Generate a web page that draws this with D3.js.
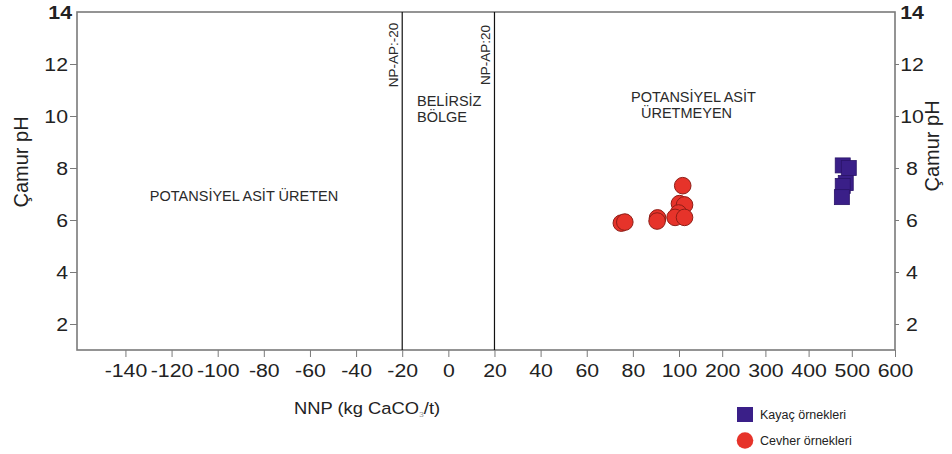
<!DOCTYPE html>
<html lang="tr">
<head>
  <meta charset="UTF-8">
  <title>Çamur pH - NNP</title>
  <script src="https://d3js.org/d3.v7.min.js"></script>
  <style>
    body {
      margin: 0;
      padding: 0;
      background: #fff;
      font-family: "Liberation Sans", Arial, sans-serif;
    }
    svg text { fill: #222; }
    .axis path, .axis line { stroke: #7a7a7a; }
    .zone { font-size: 14.5px; fill: #2a2a2a; }
  </style>
</head>
<body>
  <div id="chart"></div>

  <script>
    // x axis tick labels (NNP, kg CaCO3/t) - scale breaks at 100
    const nnpTicks = [-140, -120, -100, -80, -60, -40, -20, 0, 20, 40, 60, 80, 100, 200, 300, 400, 500, 600];
    const phTicks = [2, 4, 6, 8, 10, 12, 14];

    // Cevher örnekleri (ore samples)
    const cevherNNP = [75, 76.5, 90.7, 90.5, 108.6, 101, 112.8, 99.8, 98.3, 112.8];
    const cevherPH  = [5.88, 5.92, 6.08, 5.96, 7.32, 6.63, 6.58, 6.27, 6.1, 6.1];

    // Kayaç örnekleri (rock samples)
    const kayacNNP = [479, 493, 486, 479, 477];
    const kayacPH  = [8.1, 8.0, 7.42, 7.31, 6.88];

    const boundaries = [-20, 20];
    const boundaryLabels = ["NP-AP:-20", "NP-AP:20"];

    const W = 952, H = 454;
    const pLeft = 77, pRight = 895, pTop = 12, pBottom = 350;

    const svg = d3.select("#chart")
      .append("svg")
      .attr("width", W)
      .attr("height", H);

    // broken scale: -140..100 in 20 steps, then 100..600 in 100 steps
    const x = d3.scaleLinear()
      .domain([-161, 100, 600])
      .range([pLeft, 679, pRight]);

    const y = d3.scaleLinear()
      .domain([1, 14])
      .range([pBottom, pTop]);

    const sx = 1.12;
    const stretch = `scale(${sx},1)`;

    // bottom axis
    const xAxis = svg.append("g")
      .attr("class", "axis")
      .attr("transform", `translate(0,${pBottom})`)
      .call(d3.axisBottom(x).tickValues(nnpTicks).tickSize(7).tickPadding(7).tickFormat(d => String(d)));
    xAxis.select(".domain").remove();
    xAxis.selectAll("text")
      .style("font-size", "19px")
      .attr("transform", stretch);

    // left axis
    const yAxisL = svg.append("g")
      .attr("class", "axis")
      .attr("transform", `translate(${pLeft},0)`)
      .call(d3.axisLeft(y).tickValues(phTicks).tickSize(7).tickPadding(3).tickFormat(d => String(d)));
    yAxisL.select(".domain").remove();
    yAxisL.selectAll("text")
      .style("font-size", "19px")
      .attr("x", -9 / sx)
      .attr("transform", stretch)
      .style("font-weight", d => d === 14 ? "bold" : null);
    yAxisL.selectAll(".tick line").filter(d => d === 14).remove();
    yAxisL.selectAll(".tick text").filter(d => d === 14).attr("x", -5 / sx);

    // right axis
    const yAxisR = svg.append("g")
      .attr("class", "axis")
      .attr("transform", `translate(${pRight},0)`)
      .call(d3.axisRight(y).tickValues(phTicks).tickSize(4).tickFormat(d => String(d)));
    yAxisR.select(".domain").remove();
    yAxisR.selectAll("text")
      .style("font-size", "19px")
      .attr("text-anchor", "middle")
      .attr("x", 17 / sx)
      .attr("transform", stretch)
      .style("font-weight", d => d === 14 ? "bold" : null);
    yAxisR.selectAll(".tick line").filter(d => d === 14).remove();

    // frame
    svg.append("rect")
      .attr("x", pLeft)
      .attr("y", pTop)
      .attr("width", pRight - pLeft)
      .attr("height", pBottom - pTop)
      .attr("fill", "none")
      .attr("stroke", "#7a7a7a")
      .attr("stroke-width", 1.6);

    // NP-AP boundary lines
    svg.selectAll(".bound")
      .data(boundaries)
      .enter()
      .append("line")
      .attr("class", "bound")
      .attr("x1", d => x(d))
      .attr("x2", d => x(d))
      .attr("y1", pTop)
      .attr("y2", pBottom)
      .attr("stroke", "#111")
      .attr("stroke-width", 1.2);

    svg.selectAll(".bound-label")
      .data(boundaries)
      .enter()
      .append("text")
      .attr("class", "bound-label")
      .attr("transform", d => `translate(${x(d) - 4},55) rotate(-90)`)
      .attr("text-anchor", "middle")
      .style("font-size", "13.5px")
      .style("fill", "#2a2a2a")
      .text((d, i) => boundaryLabels[i]);

    // zone labels
    svg.append("text")
      .attr("class", "zone")
      .attr("x", 244)
      .attr("y", 201)
      .attr("text-anchor", "middle")
      .text("POTANSİYEL ASİT ÜRETEN");

    const belirsiz = svg.append("text").attr("class", "zone");
    belirsiz.append("tspan").attr("x", 417).attr("y", 106).text("BELİRSİZ");
    belirsiz.append("tspan").attr("x", 417).attr("y", 122).text("BÖLGE");

    const uretmeyen = svg.append("text").attr("class", "zone");
    uretmeyen.append("tspan").attr("x", 631).attr("y", 102).text("POTANSİYEL ASİT");
    uretmeyen.append("tspan").attr("x", 641).attr("y", 118).text("ÜRETMEYEN");

    // axis titles
    svg.append("text")
      .attr("transform", `translate(21,162) rotate(-90)`)
      .attr("text-anchor", "middle")
      .attr("dy", "0.35em")
      .style("font-size", "20px")
      .text("Çamur  pH");

    svg.append("text")
      .attr("transform", `translate(932,146) rotate(-90)`)
      .attr("text-anchor", "middle")
      .attr("dy", "0.35em")
      .style("font-size", "20px")
      .text("Çamur  pH");

    const xt = svg.append("text")
      .attr("x", 367)
      .attr("y", 414)
      .attr("text-anchor", "middle")
      .style("font-size", "17px")
      .attr("transform", "translate(367,0) scale(1.08,1) translate(-367,0)");
    xt.append("tspan").text("NNP (kg CaCO");
    xt.append("tspan").attr("dy", 3).style("font-size", "8px").style("fill", "#999").text("3");
    xt.append("tspan").attr("dy", -3).text("/t)");

    // rock samples: squares
    const sq = 15;
    svg.selectAll(".kayac")
      .data(kayacNNP)
      .enter()
      .append("rect")
      .attr("class", "kayac")
      .attr("x", d => x(d) - sq / 2)
      .attr("y", (d, i) => y(kayacPH[i]) - sq / 2)
      .attr("width", sq)
      .attr("height", sq)
      .attr("fill", "#3a1f88")
      .attr("stroke", "#2a1468")
      .attr("stroke-width", 0.8);

    // ore samples: circles
    svg.selectAll(".cevher")
      .data(cevherNNP)
      .enter()
      .append("circle")
      .attr("class", "cevher")
      .attr("cx", d => x(d))
      .attr("cy", (d, i) => y(cevherPH[i]))
      .attr("r", 8.3)
      .attr("fill", "#e6332a")
      .attr("stroke", "#8e1d16")
      .attr("stroke-width", 1);

    // legend
    const legend = svg.append("g");
    legend.append("rect")
      .attr("x", 737).attr("y", 407).attr("width", 16).attr("height", 15)
      .attr("fill", "#3a1f88");
    legend.append("text")
      .attr("x", 760).attr("y", 419)
      .style("font-size", "12.5px")
      .text("Kayaç örnekleri");
    legend.append("circle")
      .attr("cx", 745).attr("cy", 440.5).attr("r", 8.3)
      .attr("fill", "#e6332a");
    legend.append("text")
      .attr("x", 760).attr("y", 445)
      .style("font-size", "12.5px")
      .text("Cevher örnekleri");
  </script>
</body>
</html>
